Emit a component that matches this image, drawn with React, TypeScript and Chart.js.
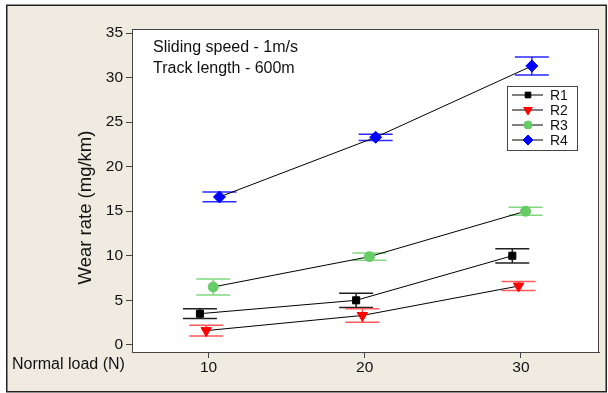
import React, { useEffect, useRef } from "react";
import { Chart, registerables } from "chart.js";
import { drawPoint } from "chart.js/helpers";

Chart.register(...registerables);

// ---- data ----
const loads = [10, 20, 30];
const seriesNames = ["R1", "R2", "R3", "R4"];
const dodge = [-0.55, -0.15, 0.3, 0.7];
const r1 = [3.5, 5.0, 10.0];
const r1Err = [0.55, 0.8, 0.8];
const r2 = [1.6, 3.3, 6.6];
const r2Err = [0.6, 0.75, 0.5];
const r3 = [6.5, 9.9, 15.0];
const r3Err = [0.9, 0.4, 0.45];
const r4 = [16.6, 23.3, 31.3];
const r4Err = [0.55, 0.35, 1.0];
const yTicks = [0, 5, 10, 15, 20, 25, 30, 35];
const xTicks = [10, 20, 30];
const notes = ["Sliding speed - 1m/s", "Track length - 600m"];
const xTitle = "Normal load (N)";
const yTitle = "Wear rate (mg/km)";

const values = [r1, r2, r3, r4];
const errors = [r1Err, r2Err, r3Err, r4Err];
const markerColors = ["#000000", "#ff0000", "#66cc66", "#0000ff"];
const capColors = ["#222222", "#ff5a5a", "#80d880", "#2a2aff"];
const pointStyles = ["rect", "triangle", "circle", "rectRot"];
const pointRotations = [0, 180, 0, 0];
const pointRadii = [5, 6, 5, 6];

const FONT = "'Liberation Sans', Arial, Helvetica, sans-serif";
const BG = "#efebe1";

const framePlugin = {
  id: "frame",
  beforeDraw(chart: any) {
    const { ctx, width, height, chartArea } = chart;
    ctx.save();
    ctx.fillStyle = "#ffffff";
    ctx.fillRect(0, 0, width, height);
    ctx.fillStyle = BG;
    ctx.fillRect(7, 5, 599, 387);
    ctx.strokeStyle = "#222";
    ctx.lineWidth = 1.5;
    ctx.strokeRect(6.75, 5.25, 599.5, 386.5);
    ctx.fillStyle = "#ffffff";
    ctx.fillRect(chartArea.left, chartArea.top, chartArea.right - chartArea.left, chartArea.bottom - chartArea.top);
    ctx.restore();
  },
  beforeDatasetsDraw(chart: any) {
    const { ctx, scales } = chart;
    const xs = scales.x;
    const ys = scales.y;
    ctx.save();
    values.forEach((vals, si) => {
      vals.forEach((v, i) => {
        const x = xs.getPixelForValue(loads[i] + dodge[si]);
        const yt = ys.getPixelForValue(v + errors[si][i]);
        const yb = ys.getPixelForValue(v - errors[si][i]);
        ctx.strokeStyle = capColors[si];
        ctx.lineWidth = 1.5;
        ctx.beginPath();
        ctx.moveTo(x, yt);
        ctx.lineTo(x, yb);
        ctx.moveTo(x - 17, yt);
        ctx.lineTo(x + 17, yt);
        ctx.moveTo(x - 17, yb);
        ctx.lineTo(x + 17, yb);
        ctx.stroke();
      });
    });
    ctx.restore();
  },
  afterDraw(chart: any) {
    const { ctx, chartArea, scales } = chart;
    ctx.save();
    // chart area border
    ctx.strokeStyle = "#444";
    ctx.lineWidth = 1;
    ctx.strokeRect(chartArea.left + 0.5, chartArea.top + 0.5, chartArea.right - chartArea.left - 1, chartArea.bottom - chartArea.top);
    // notes
    ctx.fillStyle = "#111";
    ctx.font = `16px ${FONT}`;
    ctx.textAlign = "left";
    ctx.textBaseline = "alphabetic";
    notes.forEach((t, i) => ctx.fillText(t, chartArea.left + 21, chartArea.top + 23 + i * 21));
    // x title
    ctx.textBaseline = "middle";
    ctx.fillText(xTitle, 12, scales.x.top + 13);
    // y title
    ctx.save();
    ctx.translate(86, 207.5);
    ctx.rotate(-Math.PI / 2);
    ctx.textAlign = "center";
    ctx.textBaseline = "middle";
    ctx.font = `18.5px ${FONT}`;
    ctx.fillText(yTitle, 0, 0);
    ctx.restore();
    // legend
    const lx = chartArea.right - 92;
    const ly = chartArea.top + 57;
    const lw = 70;
    const lh = 64;
    ctx.fillStyle = "#fff";
    ctx.fillRect(lx, ly, lw, lh);
    ctx.strokeStyle = "#444";
    ctx.lineWidth = 1;
    ctx.strokeRect(lx + 0.5, ly + 0.5, lw, lh);
    seriesNames.forEach((name, i) => {
      const y = ly + 9 + i * 15;
      ctx.strokeStyle = "#000";
      ctx.lineWidth = 1;
      ctx.beginPath();
      ctx.moveTo(lx + 5, y);
      ctx.lineTo(lx + 36, y);
      ctx.stroke();
      ctx.fillStyle = markerColors[i];
      ctx.strokeStyle = markerColors[i];
      drawPoint(ctx, { pointStyle: pointStyles[i] as any, rotation: pointRotations[i], radius: pointRadii[i] - 1, borderWidth: 1 }, lx + 21, y);
      ctx.fillStyle = "#111";
      ctx.font = `14px ${FONT}`;
      ctx.textAlign = "left";
      ctx.textBaseline = "middle";
      ctx.fillText(name, lx + 43, y + 1);
    });
    ctx.restore();
  },
};

export default function App() {
  const ref = useRef<HTMLCanvasElement | null>(null);
  useEffect(() => {
    if (!ref.current) return;
    const datasets = values.map((vals, si) => ({
      label: seriesNames[si],
      data: vals.map((v, i) => ({ x: loads[i] + dodge[si], y: v })),
      borderColor: "#000",
      borderWidth: 1,
      pointStyle: pointStyles[si] as any,
      pointRotation: pointRotations[si],
      pointRadius: pointRadii[si],
      pointBackgroundColor: markerColors[si],
      pointBorderColor: markerColors[si],
      pointBorderWidth: 1,
      showLine: true,
      fill: false,
      tension: 0,
    }));
    const chart = new Chart(ref.current, {
      type: "scatter",
      data: { datasets },
      plugins: [framePlugin],
      options: {
        responsive: false,
        animation: false,
        layout: { padding: { left: 0, top: 29, right: 9, bottom: 0 } },
        plugins: { legend: { display: false }, tooltip: { enabled: false } },
        scales: {
          x: {
            type: "linear",
            min: 5.1,
            max: 35,
            afterBuildTicks: (s: any) => {
              s.ticks = xTicks.map((v) => ({ value: v }));
            },
            afterFit: (s: any) => {
              s.height = 41;
            },
            grid: { display: true, drawOnChartArea: false, drawTicks: true, tickLength: 6, color: "#444" },
            border: { display: true, color: "#444" },
            ticks: { color: "#111", font: { size: 15.5, family: FONT }, padding: 0 },
          },
          y: {
            type: "linear",
            min: -0.8,
            max: 35.45,
            afterBuildTicks: (s: any) => {
              s.ticks = yTicks.map((v) => ({ value: v }));
            },
            afterFit: (s: any) => {
              s.width = 132;
            },
            grid: { display: true, drawOnChartArea: false, drawTicks: true, tickLength: 6, color: "#444" },
            border: { display: true, color: "#444" },
            ticks: { color: "#111", font: { size: 15.5, family: FONT }, padding: 3 },
          },
        },
      },
    });
    return () => chart.destroy();
  }, []);
  return (
    <div style={{ position: "fixed", left: 0, top: 0, width: 608, height: 393 }}>
      <canvas ref={ref} width={608} height={393} style={{ display: "block" }} />
    </div>
  );
}
